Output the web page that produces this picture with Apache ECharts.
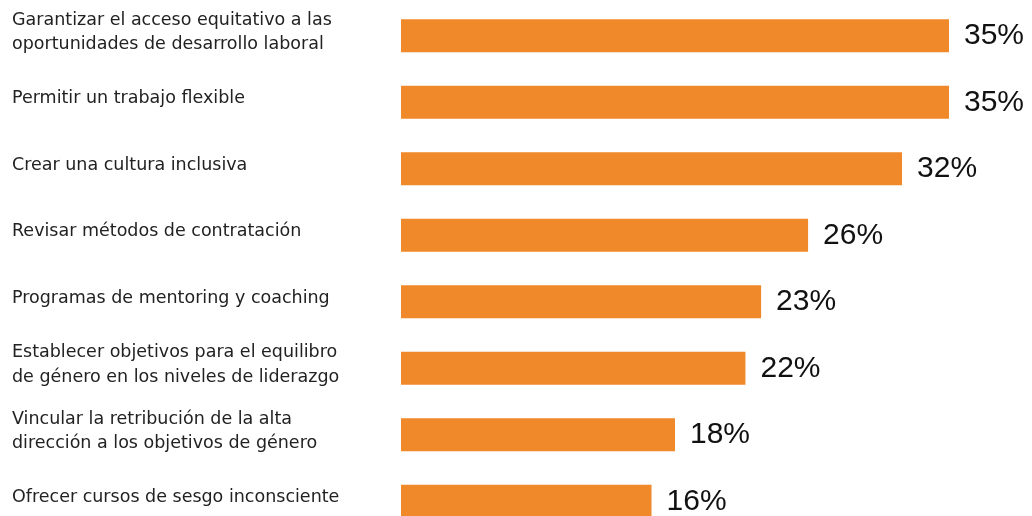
<!DOCTYPE html>
<html>
<head>
<meta charset="utf-8">
<script src="https://cdn.jsdelivr.net/npm/echarts@6/dist/echarts.min.js"></script>
<style>
html,body{margin:0;padding:0;background:#fff;overflow:hidden;width:1032px;height:516px;}
#chart{width:1032px;height:560px;}
</style>
</head>
<body>
<div id="chart"></div>
<script>
const categories = [
  "Garantizar el acceso equitativo a las\noportunidades de desarrollo laboral",
  "Permitir un trabajo flexible",
  "Crear una cultura inclusiva",
  "Revisar métodos de contratación",
  "Programas de mentoring y coaching",
  "Establecer objetivos para el equilibro\nde género en los niveles de liderazgo",
  "Vincular la retribución de la alta\ndirección a los objetivos de género",
  "Ofrecer cursos de sesgo inconsciente"
];
const values = [35, 35, 32, 26, 23, 22, 17.5, 16];

const chart = echarts.init(document.getElementById('chart'), null, {renderer: 'canvas'});
chart.setOption({
  animation: false,
  backgroundColor: '#ffffff',
  grid: {left: 401, top: 2.5, width: 548, height: 532, containLabel: false},
  xAxis: {
    type: 'value', min: 0, max: 35, show: false
  },
  yAxis: {
    type: 'category',
    data: categories,
    inverse: true,
    axisLine: {show: false},
    axisTick: {show: false},
    splitLine: {show: false},
    axisLabel: {
      margin: 389,
      align: 'left',
      verticalAlign: 'middle',
      formatter: function (v) {
        return v.split('\n').map(function (l) { return '{t|' + l + '}'; }).join('\n') + '\n{s| }';
      },
      rich: {
        t: {fontFamily: 'DejaVu Sans', fontSize: 17.5, lineHeight: 24.5, color: '#222222'},
        s: {fontSize: 1, lineHeight: 7}
      }
    }
  },
  series: [{
    type: 'bar',
    data: values,
    barWidth: 33,
    itemStyle: {color: '#F0892A'},
    label: {
      show: true,
      position: 'right',
      distance: 15,
      fontFamily: 'Liberation Sans',
      fontSize: 30,
      color: '#111111',
      formatter: function (p) { return Math.round(p.value) + '%'; }
    }
  }]
});
</script>
</body>
</html>
